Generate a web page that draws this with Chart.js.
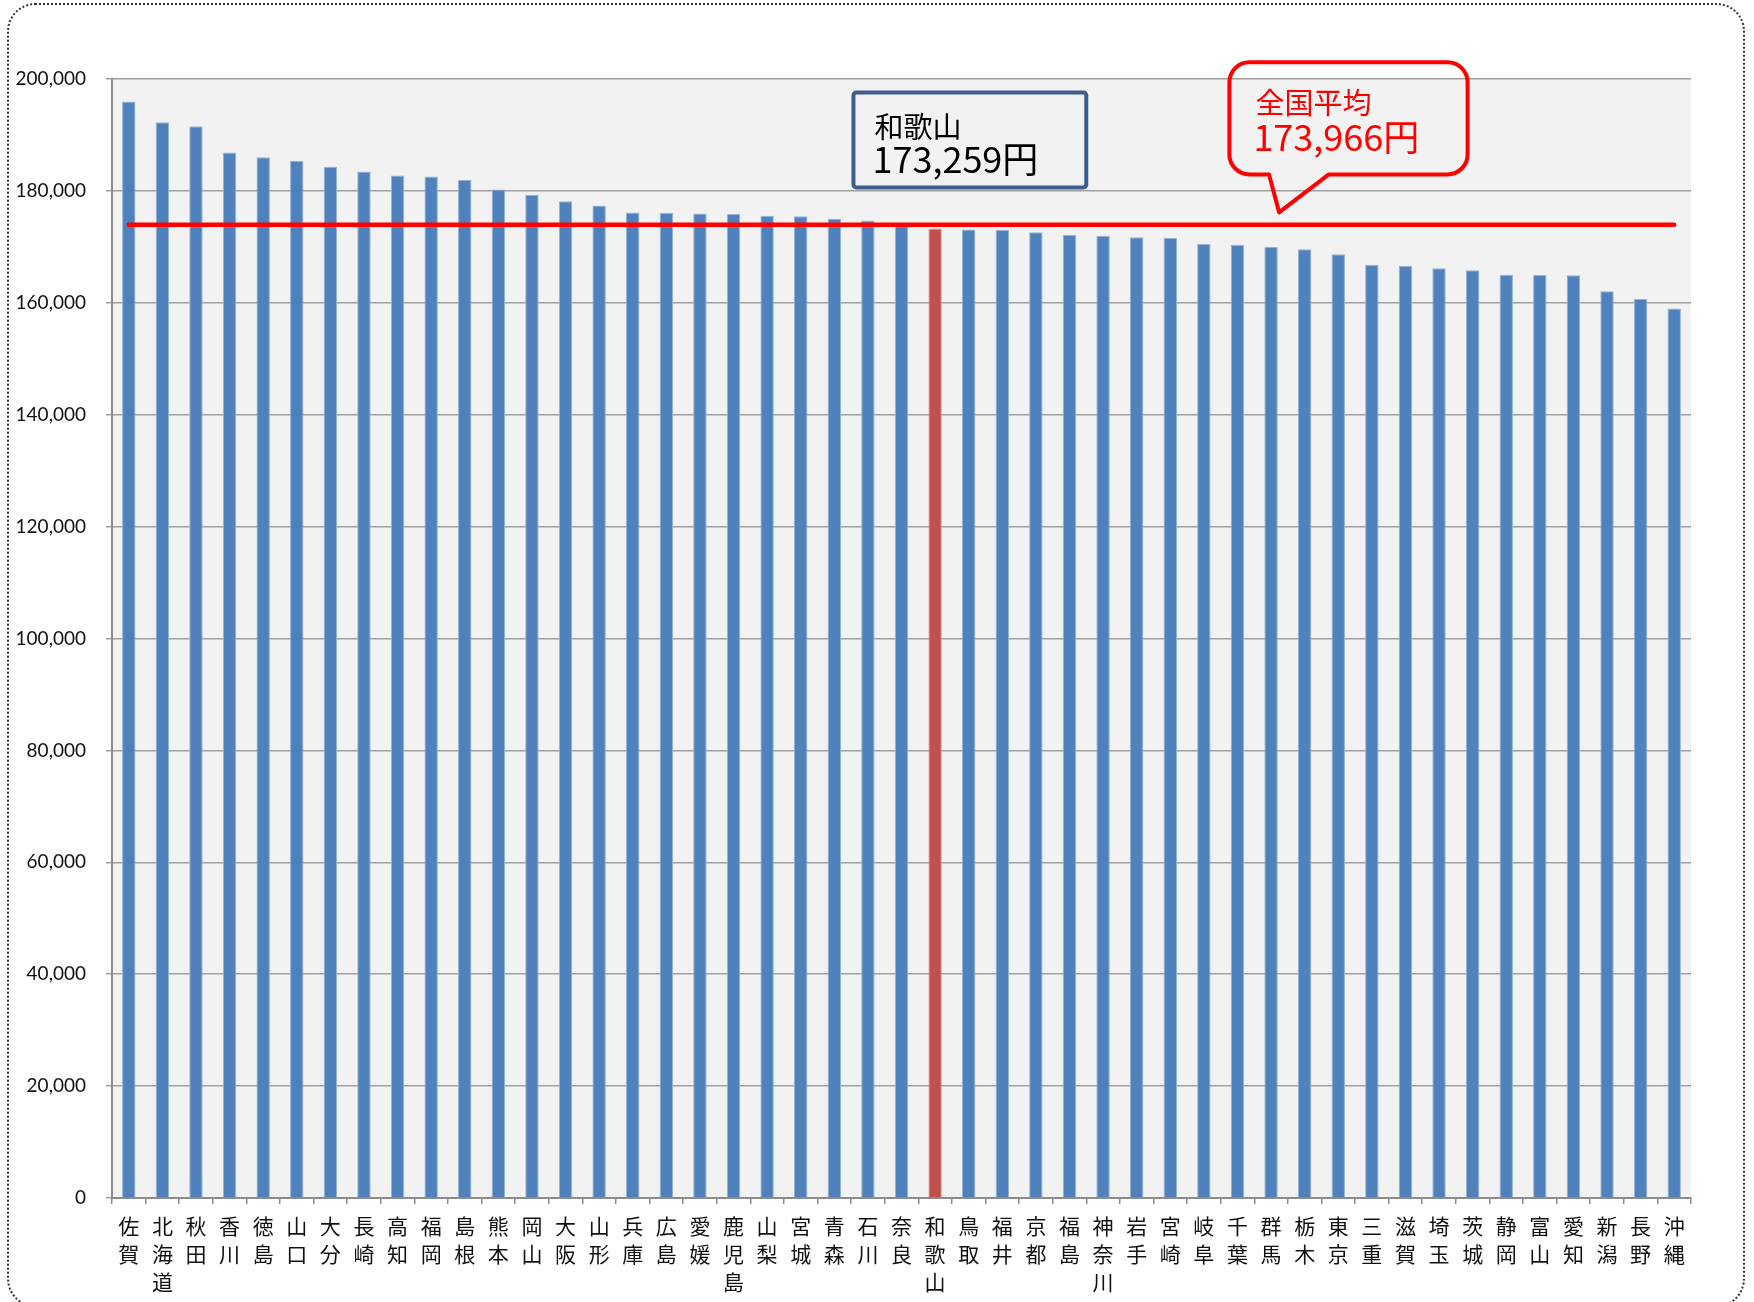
<!DOCTYPE html>
<html>
<head>
<meta charset="utf-8">
<script src="https://cdn.jsdelivr.net/npm/chart.js@4/dist/chart.umd.min.js"></script>
<style>
    body { margin: 0; background: #fff; }
    #wrap { position: relative; width: 1754px; height: 1302px; overflow: hidden; }
    #frame {
        position: absolute; left: 7px; top: 3px; width: 1738px; height: 1304px;
        border: 2px dotted #333; border-radius: 28px; box-sizing: border-box;
    }
    #chart { position: absolute; left: 0; top: 0; }
</style>
</head>
<body>
<div id="wrap">
    <div id="frame"></div>
    <canvas id="chart" width="1754" height="1302"></canvas>
</div>
<script>
// prefectures, sorted by value
const prefectures = ['佐賀', '北海道', '秋田', '香川', '徳島', '山口', '大分', '長崎', '高知', '福岡',
    '島根', '熊本', '岡山', '大阪', '山形', '兵庫', '広島', '愛媛', '鹿児島', '山梨',
    '宮城', '青森', '石川', '奈良', '和歌山', '鳥取', '福井', '京都', '福島', '神奈川',
    '岩手', '宮崎', '岐阜', '千葉', '群馬', '栃木', '東京', '三重', '滋賀', '埼玉',
    '茨城', '静岡', '富山', '愛知', '新潟', '長野', '沖縄'];

const amounts = [195980, 192290, 191570, 186880, 186000, 185390, 184320, 183480, 182770, 182590,
    182000, 180270, 179320, 178150, 177410, 176160, 176100, 175980, 175860, 175570,
    175450, 175030, 174730, 173800, 173259, 173080, 173020, 172590, 172170, 172000,
    171700, 171640, 170570, 170390, 169960, 169550, 168660, 166820, 166640, 166160,
    165800, 165030, 164980, 164910, 162050, 160680, 158960];

const nationalAverage = 173966;
const highlight = '和歌山';
const yTicks = [0, 20000, 40000, 60000, 80000, 100000, 120000, 140000, 160000, 180000, 200000];

const barColors = prefectures.map(p => p === highlight ? '#C0504D' : '#4F81BD');
const barEdges = prefectures.map(p => p === highlight ? '#D99694' : '#95B3D7');

// callout boxes, placed in category index / value units
const callouts = [
    { lines: ['和歌山', '173,259円'], color: '#000', border: '#3B5E8C',
      x0: 21.57, x1: 28.5, y0: 197600, y1: 180600, radius: 3,
      text: { dx: 21, line1: 46, line2: 81 } },
    { lines: ['全国平均', '173,966円'], color: '#FF0000', border: '#FF0000',
      x0: 32.76, x1: 39.85, y0: 203000, y1: 182950, radius: 20,
      text: { dx: 26, line1: 52, line2: 89 },
      tail: { a: 33.94, b: 35.72, tipX: 34.24, tipY: 176160 } }
];

const plotBackground = {
    id: 'plotBackground',
    beforeDraw(chart) {
        const { ctx, chartArea } = chart;
        ctx.save();
        ctx.fillStyle = '#F2F2F2';
        ctx.fillRect(chartArea.left, chartArea.top, chartArea.right - chartArea.left, chartArea.bottom - chartArea.top);
        ctx.restore();
    }
};

function roundedPath(ctx, l, t, r, b, rad, tail, xs, ys) {
    ctx.beginPath();
    ctx.moveTo(l + rad, t);
    ctx.lineTo(r - rad, t);
    ctx.arcTo(r, t, r, t + rad, rad);
    ctx.lineTo(r, b - rad);
    ctx.arcTo(r, b, r - rad, b, rad);
    if (tail) {
        ctx.lineTo(xs.getPixelForValue(tail.b), b);
        ctx.lineTo(xs.getPixelForValue(tail.tipX), ys.getPixelForValue(tail.tipY));
        ctx.lineTo(xs.getPixelForValue(tail.a), b);
    }
    ctx.lineTo(l + rad, b);
    ctx.arcTo(l, b, l, b - rad, rad);
    ctx.lineTo(l, t + rad);
    ctx.arcTo(l, t, l + rad, t, rad);
    ctx.closePath();
}

const calloutPlugin = {
    id: 'callouts',
    afterDatasetsDraw(chart) {
        const { ctx } = chart;
        const xs = chart.scales.x;
        const ys = chart.scales.y;
        callouts.forEach(c => {
            const l = xs.getPixelForValue(c.x0);
            const r = xs.getPixelForValue(c.x1);
            const t = ys.getPixelForValue(c.y0);
            const b = ys.getPixelForValue(c.y1);
            ctx.save();
            roundedPath(ctx, l, t, r, b, c.radius, c.tail, xs, ys);
            ctx.lineWidth = 4;
            ctx.lineJoin = 'round';
            ctx.strokeStyle = c.border;
            ctx.stroke();
            ctx.fillStyle = c.color;
            ctx.textBaseline = 'alphabetic';
            ctx.textAlign = 'left';
            ctx.font = '29px "Noto Sans CJK JP"';
            ctx.fillText(c.lines[0], l + c.text.dx, t + c.text.line1);
            ctx.font = '36px "Noto Sans CJK JP"';
            ctx.fillText(c.lines[1], l + c.text.dx - 2, t + c.text.line2);
            ctx.restore();
        });
    }
};

new Chart(document.getElementById('chart'), {
    type: 'bar',
    data: {
        labels: prefectures.map(p => p.split('')),
        datasets: [{
            type: 'line',
            label: '全国平均',
            data: prefectures.map(() => nationalAverage),
            borderColor: '#FF0000',
            borderWidth: 4.5,
            borderCapStyle: 'round',
            pointRadius: 0,
            order: 0
        }, {
            label: '金額',
            data: amounts,
            backgroundColor: barColors,
            borderColor: barEdges,
            borderWidth: 1,
            categoryPercentage: 1,
            barPercentage: 0.4,
            order: 1
        }]
    },
    options: {
        responsive: false,
        animation: false,
        layout: { padding: { top: 79, right: 63, bottom: 0, left: 0 } },
        plugins: {
            legend: { display: false },
            tooltip: { enabled: false }
        },
        scales: {
            x: {
                afterFit: function(scale) { scale.height = 104; },
                border: { color: '#8C8C8C', width: 2 },
                grid: { drawOnChartArea: false, color: '#8C8C8C', tickLength: 6, lineWidth: 1.5 },
                ticks: {
                    autoSkip: false,
                    maxRotation: 0,
                    padding: 8,
                    color: '#111',
                    font: { family: '"Noto Sans CJK JP"', size: 21, lineHeight: 1.33 }
                }
            },
            y: {
                min: 0,
                max: 200000,
                afterFit: function(scale) { scale.width = 112; },
                afterBuildTicks: function(scale) { scale.ticks = yTicks.map(v => ({ value: v })); },
                border: { color: '#8C8C8C', width: 2 },
                grid: { color: '#A0A0A0', lineWidth: 1.5, tickLength: 6 },
                ticks: {
                    padding: 20,
                    color: '#111',
                    font: { family: 'Lato', size: 19 },
                    callback: function(value) { return value.toLocaleString('en-US'); }
                }
            }
        }
    },
    plugins: [plotBackground, calloutPlugin]
});
</script>
</body>
</html>
